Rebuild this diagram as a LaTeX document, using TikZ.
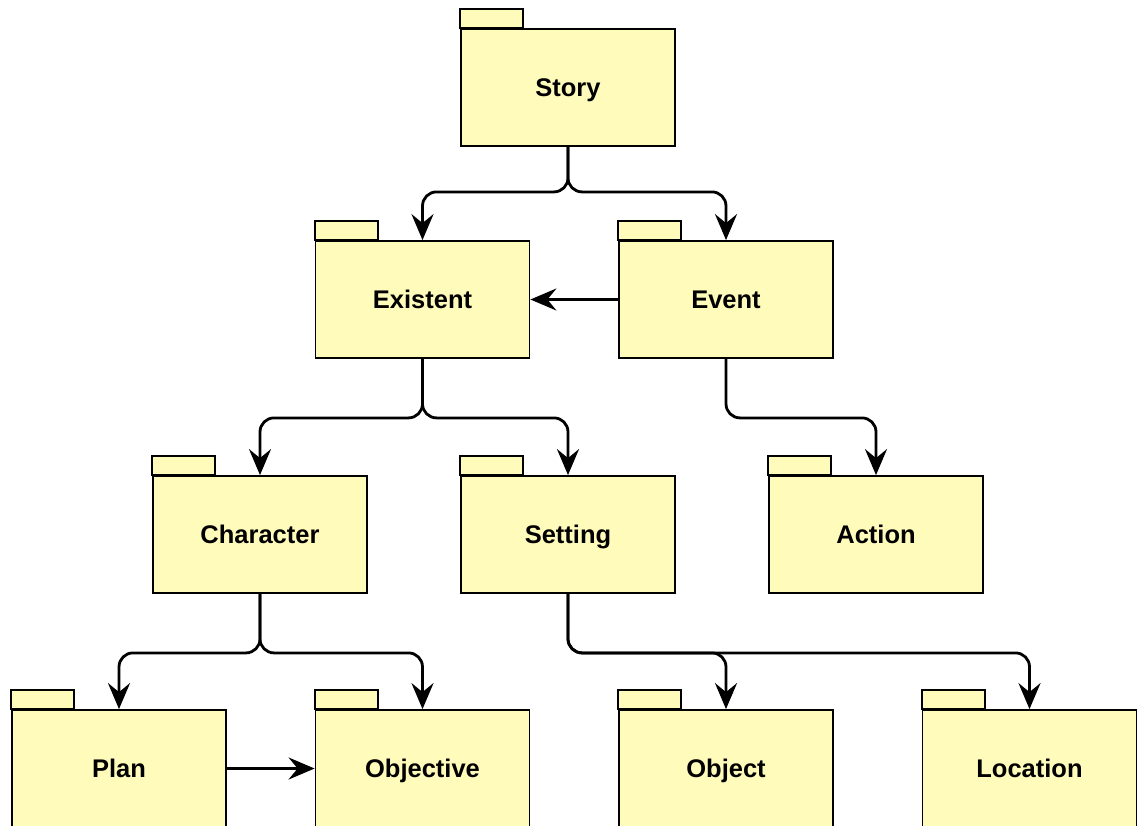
\documentclass[tikz,border=0pt]{standalone}
\usepackage{fontspec}
\setmainfont{Liberation Sans}
\usetikzlibrary{arrows.meta}
\definecolor{pkgfill}{RGB}{255,251,186}
\tikzset{
  pkg/.style={draw=black, fill=pkgfill, line width=1.8pt, minimum width=214pt, minimum height=117pt,
    inner sep=0pt, text height=18.3pt, text depth=0pt, font=\fontsize{25.5}{30}\selectfont\bfseries},
  pkgtab/.style={draw=black, fill=pkgfill, line width=1.8pt},
  conn/.style={line width=2.8pt, rounded corners=14pt, -{Stealth[length=26pt,width=22pt,inset=9pt]}},
}
\newcommand{\pkgnode}[3]{%
  \node[pkg] (#1) at (#2) {#3};
  \draw[pkgtab] (#1.north west) rectangle ++(63,-19);
}
\begin{document}
\begin{tikzpicture}[x=1pt,y=-1pt]
\useasboundingbox (0,0) rectangle (1138,825);
\clip (0,0) rectangle (1138,825);
\pkgnode{story}{568,87.5}{Story}
\pkgnode{existent}{422.5,299.5}{Existent}
\pkgnode{event}{726,299.5}{Event}
\pkgnode{character}{260,534.5}{Character}
\pkgnode{setting}{568,534.5}{Setting}
\pkgnode{action}{876,534.5}{Action}
\pkgnode{plan}{119,768.5}{Plan}
\pkgnode{objective}{422.5,768.5}{Objective}
\pkgnode{object}{726,768.5}{Object}
\pkgnode{location}{1029.5,768.5}{Location}

\draw[conn] (story.south) -- ++(0,45) -| (existent.north);
\draw[conn] (story.south) -- ++(0,45) -| (event.north);
\draw[conn] (event.west) -- (existent.east);
\draw[conn] (existent.south) -- ++(0,59) -| (character.north);
\draw[conn] (existent.south) -- ++(0,59) -| (setting.north);
\draw[conn] (event.south) -- ++(0,59) -| (action.north);
\draw[conn] (character.south) -- ++(0,59) -| (plan.north);
\draw[conn] (character.south) -- ++(0,59) -| (objective.north);
\draw[conn] (setting.south) -- ++(0,59) -| (object.north);
\draw[conn] (setting.south) -- ++(0,59) -| (location.north);
\draw[conn] (plan.east) -- (objective.west);
\end{tikzpicture}
\end{document}
